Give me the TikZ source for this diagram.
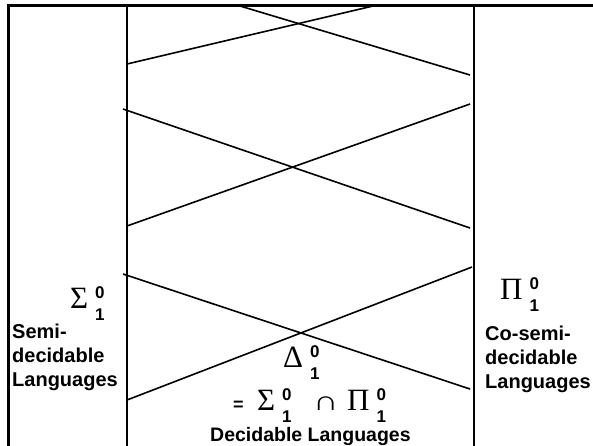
\documentclass[tikz,border=0pt]{standalone}
\usepackage{fontspec}
\usepackage{graphicx}
\setmainfont{Liberation Sans}
\newfontfamily\symfont{Liberation Serif}
\usetikzlibrary{positioning}

% letter with stacked 0 / 1 indices
\newcommand{\digfont}{\bfseries\fontsize{17}{17}\selectfont}
\newcommand{\hsym}[1]{{\symfont\fontsize{31}{31}\selectfont #1}\kern7pt\rlap{\raisebox{10pt}{\digfont 0}}\raisebox{-12pt}{\digfont 1}}

\begin{document}
\begin{tikzpicture}[
    x=1pt, y=-1pt,
    outer/.style={line width=3pt},
    inner/.style={line width=2.2pt},
    cross/.style={line width=1.6pt},
    label/.style={font=\bfseries\fontsize{20}{24}\selectfont, align=left, inner sep=0pt},
    sym/.style={inner sep=0pt, anchor=base west}
]
\useasboundingbox (0,0) rectangle (593,446);

% frame
\draw[outer] (8,450) -- (8,6) -- (600,6);
\draw[inner] (127,6) -- (127,450);
\draw[inner, line width=2.6pt] (474,6) -- (474,450);

% top cross
\draw[cross] (240,6) -- (470,75);
\draw[cross] (127,64) -- (373,6);

% middle cross
\draw[cross] (123,109) -- (470,228);
\draw[cross] (127,226) -- (470,104);

% bottom cross
\draw[cross] (123,274) -- (470,389);
\draw[cross] (127,400) -- (472,267);

% left class
\node[sym] (sigmaL) at (70,308) {\hsym{Σ}};
\node[label, anchor=north west] (semiL) at (12,324) {Semi-\\decidable\\Languages};

% right class
\node[sym] (piR) at (500,299) {\hsym{Π}};
\node[label, anchor=north west] (cosemiR) at (485,326) {Co-semi-\\decidable\\Languages};

% intersection
\node[sym] (deltaM) at (283,367) {\hsym{Δ}};
\node[sym, font=\bfseries\fontsize{18}{18}\selectfont] (eqM) at (233,410) {=};
\node[sym] (sigmaM) at (257,410) {\hsym{Σ}};
\node[sym] (capM) at (313,410) {\symfont\fontsize{26}{26}\selectfont\scalebox{1.35}[1.05]{∩}};
\node[sym] (piM) at (347,410) {\hsym{Π}};
\node[label, sym, font=\bfseries\fontsize{19.5}{24}\selectfont] (decM) at (210,441) {Decidable Languages};

\end{tikzpicture}
\end{document}
